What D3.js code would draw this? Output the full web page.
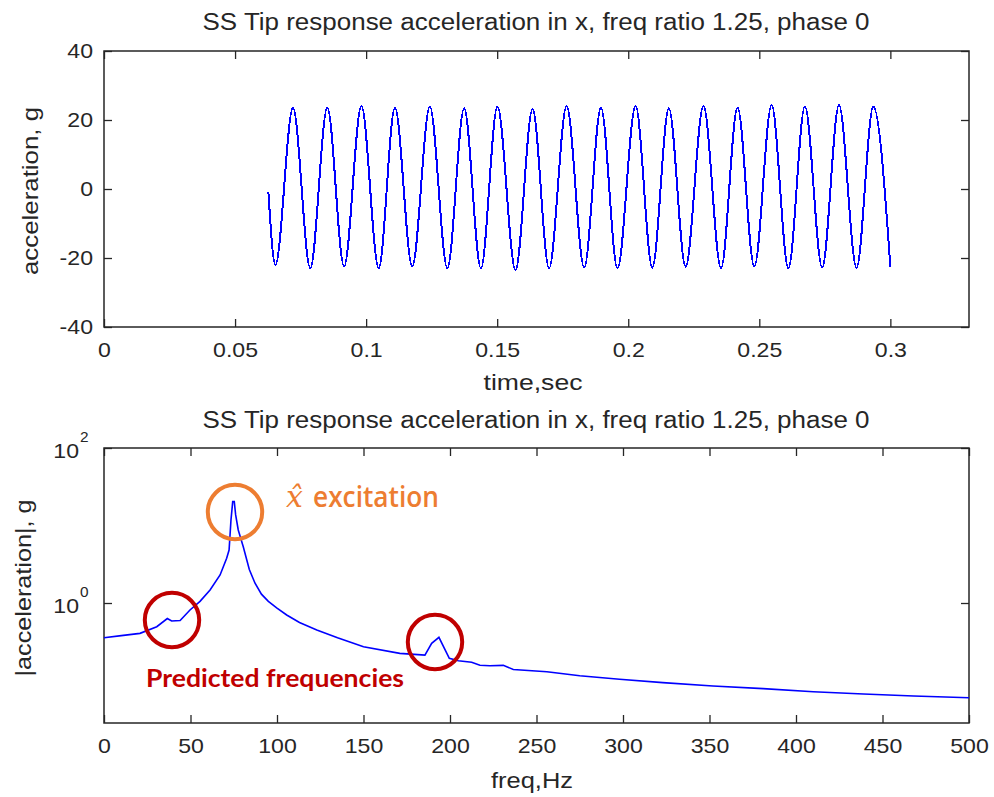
<!DOCTYPE html>
<html><head><meta charset="utf-8">
<script src="https://cdn.jsdelivr.net/npm/d3@7"></script>
<style>
body{margin:0;background:#fff}
text{font-family:"Liberation Sans",Arial,sans-serif;fill:#262626}
</style>
</head><body><svg id="c" width="994" height="797"></svg>
<script>
// ---------- data ----------
const timeSec = [0.0627,0.0654,0.0721,0.0787,0.0852,0.0916,0.0982,0.1048,0.1110,0.1176,0.1243,0.1310,0.1374,0.1438,0.1501,0.1570,0.1635,0.1698,0.1765,0.1832,0.1896,0.1959,0.2028,0.2092,0.2155,0.2219,0.2287,0.2354,0.2417,0.2481,0.2547,0.2611,0.2674,0.2740,0.2804,0.2871,0.2935,0.3000];
const accelG = [-0.8,-22.0,23.6,-23.0,23.6,-22.5,24.1,-23.0,23.6,-22.5,23.9,-23.0,23.4,-23.0,23.9,-23.5,23.2,-23.0,24.1,-22.8,23.6,-23.0,24.1,-22.8,23.4,-22.5,24.1,-23.0,23.6,-22.5,24.3,-23.0,23.9,-22.8,24.3,-22.8,23.9,-22.5];
const timeTicks = [0,0.05,0.1,0.15,0.2,0.25,0.3];
const accelTicks = [-40,-20,0,20,40];

const freqHz = [0,10,20.8,30.5,36.6,39.1,44,49.7,55.5,61.3,67.1,70.9,72.3,73.4,74.4,75.3,76.1,77.6,80.5,84,87.3,91,95,100,105.6,113,123,135,150,171,185.5,189.4,193.6,199.6,204.8,212.5,217.3,223,230.8,236.6,256,275,298,323,352,381,410,439,468,500];
const accelMag = [0.356,0.379,0.406,0.494,0.631,0.586,0.594,0.812,1.05,1.47,2.30,3.77,4.83,11.8,20.3,20.3,13.7,8.75,5.33,2.7,1.80,1.30,1.05,0.86,0.70,0.56,0.45,0.355,0.273,0.224,0.213,0.302,0.361,0.193,0.180,0.172,0.157,0.155,0.157,0.139,0.130,0.115,0.104,0.094,0.085,0.0785,0.0717,0.067,0.063,0.060];
const freqTicks = [0,50,100,150,200,250,300,350,400,450,500];
const magTicks = [1,100];
const magTickExp = ["0","2"];

const titleText = "SS Tip response acceleration in x, freq ratio 1.25, phase 0";
const topXLabel = "time,sec", topYLabel = "acceleration, g";
const botXLabel = "freq,Hz", botYLabel = "|acceleration|, g";
const noteExcitation = "excitation";
const notePredicted = "Predicted frequencies";

// ---------- setup ----------
const svg = d3.select("#c");
const INK = "#262626";
const SX = 1.1;
function stretch(sel, sx){ sel.each(function(){ const L=this.getComputedTextLength(); d3.select(this).attr("textLength", L*sx).attr("lengthAdjust","spacingAndGlyphs"); }); }
function fit(sel, w){ sel.attr("textLength", w).attr("lengthAdjust","spacingAndGlyphs"); }

const L = 104, R = 969;
const xT = d3.scaleLinear().domain([0,0.33]).range([L,R]);
const yT = d3.scaleLinear().domain([-40,40]).range([327,51]);
const xB = d3.scaleLinear().domain([0,500]).range([L,R]);
const yB = d3.scaleLog().domain([0.0283,100]).range([723,448]);

function frame(x, y, xt, yt, xfmt, yfmt){
  const [y0,y1] = y.range();
  const g = svg.append("g").attr("color", INK);
  g.append("g").attr("transform",`translate(0,${y0})`)
    .call(d3.axisBottom(x).tickValues(xt).tickSizeInner(-8).tickSizeOuter(0).tickPadding(15).tickFormat(xfmt))
    .call(s=>s.select(".domain").remove())
    .call(s=>{ s.selectAll("text").attr("font-size",21); stretch(s.selectAll("text"), SX); });
  g.append("g").attr("transform",`translate(0,${y1})`)
    .call(d3.axisTop(x).tickValues(xt).tickSizeInner(-8).tickSizeOuter(0).tickFormat(""))
    .call(s=>s.select(".domain").remove());
  const la = g.append("g").attr("transform",`translate(${L},0)`)
    .call(d3.axisLeft(y).tickValues(yt).tickSizeInner(-8).tickSizeOuter(0).tickPadding(11).tickFormat(yfmt))
    .call(s=>s.select(".domain").remove());
  la.selectAll("text").attr("font-size",21); stretch(la.selectAll("text"), SX);
  g.append("g").attr("transform",`translate(${R},0)`)
    .call(d3.axisRight(y).tickValues(yt).tickSizeInner(-8).tickSizeOuter(0).tickFormat(""))
    .call(s=>s.select(".domain").remove());
  g.selectAll(".tick line").attr("stroke-width",1.3);
  g.append("rect").attr("x",L).attr("y",y1).attr("width",R-L).attr("height",y0-y1)
    .attr("fill","none").attr("stroke",INK).attr("stroke-width",1.5);
  return la;
}

// ---------- top panel ----------
frame(xT, yT, timeTicks, accelTicks, d=>String(+d.toFixed(2)), d=>String(d));
svg.append("path")
  .datum(timeSec.map((t,i)=>[t,accelG[i]]))
  .attr("fill","none").attr("stroke","#0000ff").attr("stroke-width",2)
  .attr("shape-rendering","crispEdges")
  .attr("d", d3.line().x(d=>xT(d[0])).y(d=>yT(d[1])).curve(d3.curveMonotoneX));

svg.append("text").attr("x",536).attr("y",30).attr("text-anchor","middle").attr("font-size",23)
  .text(titleText).call(s=>fit(s,667));
svg.append("text").attr("x",533).attr("y",390).attr("text-anchor","middle").attr("font-size",22)
  .text(topXLabel).call(s=>fit(s,99));
svg.append("text").attr("transform","translate(38,191) rotate(-90)").attr("text-anchor","middle").attr("font-size",22)
  .text(topYLabel).call(s=>fit(s,168));

// ---------- bottom panel ----------
frame(xB, yB, freqTicks, magTicks, d=>String(d), ()=>"");
magTicks.forEach((v,i)=>{
  const yy = yB(v);
  svg.append("text").attr("x",79).attr("y",yy+10).attr("text-anchor","end").attr("font-size",21)
    .text("10").call(s=>stretch(s,SX));
  svg.append("text").attr("x",80).attr("y",yy-6).attr("font-size",14)
    .text(magTickExp[i]).call(s=>stretch(s,SX));
});
svg.append("path")
  .datum(freqHz.map((f,i)=>[f,accelMag[i]]))
  .attr("fill","none").attr("stroke","#0000ff").attr("stroke-width",1.6)
  .attr("d", d3.line().x(d=>xB(d[0])).y(d=>yB(d[1])));

svg.append("text").attr("x",536).attr("y",428).attr("text-anchor","middle").attr("font-size",23)
  .text(titleText).call(s=>fit(s,667));
svg.append("text").attr("x",532).attr("y",788).attr("text-anchor","middle").attr("font-size",22)
  .text(botXLabel).call(s=>fit(s,82));
svg.append("text").attr("transform","translate(31,588) rotate(-90)").attr("text-anchor","middle").attr("font-size",22)
  .text(botYLabel).call(s=>fit(s,177));

// ---------- annotations ----------
const ORANGE = "#ED7D31", DRED = "#C00000";
svg.append("circle").attr("cx",235).attr("cy",512).attr("r",27.2).attr("fill","none").attr("stroke",ORANGE).attr("stroke-width",4);
svg.append("circle").attr("cx",172).attr("cy",620).attr("r",27.2).attr("fill","none").attr("stroke",DRED).attr("stroke-width",4);
svg.append("circle").attr("cx",435).attr("cy",642).attr("r",27.2).attr("fill","none").attr("stroke",DRED).attr("stroke-width",4);

svg.append("text").attr("x",286).attr("y",507).attr("font-size",30)
  .style("font-family","'DejaVu Serif',serif").style("font-style","italic").style("fill",ORANGE)
  .text("x\u0302");
svg.append("text").attr("x",313).attr("y",507).attr("font-size",28).style("font-weight",600)
  .style("font-family","'Open Sans',Lato,sans-serif").style("fill",ORANGE)
  .text(noteExcitation).call(s=>fit(s,126));
svg.append("text").attr("x",146).attr("y",687).attr("font-size",24).attr("font-weight","bold")
  .style("font-family","Lato,'Open Sans',sans-serif").style("fill",DRED)
  .text(notePredicted).call(s=>fit(s,258));
</script>
</body></html>
